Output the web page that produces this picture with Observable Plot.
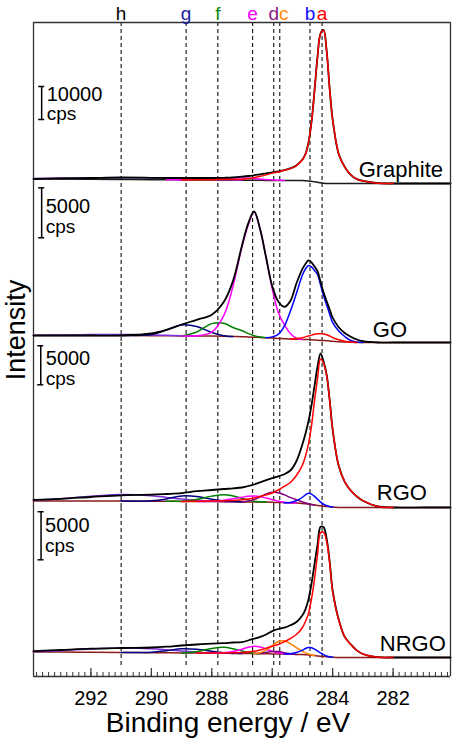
<!DOCTYPE html>
<html>
<head>
<meta charset="utf-8">
<script src="https://cdn.jsdelivr.net/npm/d3@7"></script>
<script src="https://cdn.jsdelivr.net/npm/@observablehq/plot@0.6"></script>
<style>
  body { margin: 0; background: #fff; }
  #chart { position: relative; width: 474px; height: 744px; font-family: "Liberation Sans", Arial, sans-serif; color: #000; }
  #chart svg { display: block; overflow: visible; }
  .ylab { position: absolute; left: 16px; top: 330px; transform: translate(-50%, -50%) rotate(-90deg); font-size: 27px; line-height: 1; white-space: nowrap; }
  .xlab { position: absolute; left: 228px; top: 709px; transform: translateX(-50%); font-size: 28px; line-height: 1; white-space: nowrap; }
</style>
</head>
<body>
<div id="chart">
  <div id="panels"></div>
  <div class="ylab">Intensity</div>
  <div class="xlab">Binding energy / eV</div>
</div>
<script>
// ---------- data (binding energy in eV, intensities in cps) ----------
const energy = [293.9,293,292,291,290,289.5,289,288.5,288,287.6,287.3,287,286.8,286.6,286.4,286.2,286,285.8,285.6,285.4,285.2,285,284.9,284.8,284.7,284.6,284.5,284.4,284.3,284.2,284.1,284,283.8,283.6,283.4,283.2,283,282.5,282,281,280.1];

const peakLetters   = ["h","g","f","e","d","c","b","a"];
const peakPositions = [291.0, 288.85, 287.8, 286.65, 285.95, 285.75, 284.75, 284.35];
const peakColors    = ["#000000","#1c1c9c","#0a8a0a","#ff00ff","#8a1a8a","#ff8c00","#1010ff","#ff0000"];

const panelNames = ["Graphite","GO","RGO","NRGO"];
const scaleBarValues = [10000, 5000, 5000, 5000];
const majorTicks = [282, 284, 286, 288, 290, 292];

// Graphite
const graphiteEnvelope = [1364,1515,1667,1818,1727,1667,1667,1667,1667,1727,1818,2060,2272,2485,2788,3060,3394,3636,4060,4606,5484,7272,8939,12423,18635,28179,38481,45450,46510,40299,28785,19392,8969,5000,2636,1333,788,100,0,0,0];
const graphiteBackground = [1364,1333,1273,1212,1151,1121,1090,1060,1030,1030,1000,1000,970,970,970,939,939,909,909,909,909,879,848,788,667,515,364,212,91,0,0,0,0,0,0,0,0,0,0,0,0];
const graphiteA = [0,0,0,0,0,0,0,50,100,150,200,300,500,800,1200,1700,2200,2600,3100,3600,4500,6300,8000,11550,17900,27600,38050,45150,46350,40250,28750,19370,8950,4990,2630,1330,780,100,0,0,0];
const graphiteE = [0,0,0,0,0,0,50,200,400,550,650,700,650,550,400,250,130,50,0,0,0,0,0,0,0,0,0,0,0,0,0,0,0,0,0,0,0,0,0,0,0];
const graphiteH = [150,300,450,560,520,470,420,300,180,80,30,0,0,0,0,0,0,0,0,0,0,0,0,0,0,0,0,0,0,0,0,0,0,0,0,0,0,0,0,0,0];

// GO
const goEnvelope = [700,700,700,700,900,1270,1800,2270,2780,4070,6140,9700,11860,13100,11320,8450,5640,4100,3570,4160,5900,7360,7850,8220,8020,7590,7130,6070,5010,4150,3310,2480,1520,950,580,300,130,0,0,0,0];
const goBackground = [700,700,700,700,680,670,660,650,640,620,600,580,560,530,500,470,440,410,380,350,330,310,300,290,270,250,230,210,190,170,150,120,80,50,30,10,0,0,0,0,0];
const goA = [0,0,0,0,0,0,0,0,0,0,0,0,0,0,0,0,0,0,0,0,60,170,260,360,470,570,640,670,660,600,500,380,200,80,20,0,0,0,0,0,0];
const goB = [0,0,0,0,0,0,0,0,0,0,0,0,0,0,0,0,120,400,1250,2770,4570,6440,7050,7410,7290,6950,6570,5530,4480,3590,2710,1870,1070,550,170,40,0,0,0,0,0];
const goE = [0,0,0,0,0,0,0,30,400,2100,5000,9020,11120,12520,10800,8000,4960,2620,1400,550,100,0,0,0,0,0,0,0,0,0,0,0,0,0,0,0,0,0,0,0,0];
const goF = [0,0,0,0,0,0,0,400,1250,1300,900,600,350,150,40,0,0,0,0,0,0,0,0,0,0,0,0,0,0,0,0,0,0,0,0,0,0,0,0,0,0];
const goG = [0,0,0,0,120,580,1090,950,360,50,0,0,0,0,0,0,0,0,0,0,0,0,0,0,0,0,0,0,0,0,0,0,0,0,0,0,0,0,0,0,0];
const goH = [30,60,90,100,80,50,20,0,0,0,0,0,0,0,0,0,0,0,0,0,0,0,0,0,0,0,0,0,0,0,0,0,0,0,0,0,0,0,0,0,0];

// RGO
const rgoEnvelope = [986,1114,1344,1562,1638,1728,1843,2086,2240,2368,2445,2560,2752,2944,3226,3494,3750,3994,4262,4736,5923,8102,9446,11033,13069,15565,18048,19712,18688,17024,13824,9984,5338,3290,2176,1408,870,128,0,0,0];
const rgoBackground = [832,832,832,832,806,794,781,768,755,742,730,717,717,704,704,691,666,640,614,589,563,512,474,422,371,320,269,218,166,128,90,51,13,0,0,0,0,0,0,0,0];
const rgoA = [0,0,0,0,0,0,0,30,64,115,166,269,371,512,704,922,1190,1600,2086,2611,3533,4915,6093,7718,10074,13376,16256,18790,18300,16780,13690,9930,5320,3290,2176,1408,870,128,0,0,0];
const rgoB = [0,0,0,0,0,0,0,0,0,0,0,0,0,0,0,0,0,0,0,60,300,800,1150,1400,1350,1100,780,480,250,110,40,0,0,0,0,0,0,0,0,0,0];
const rgoD = [0,0,0,0,0,0,0,0,0,0,0,0,100,300,650,1050,1280,1250,1000,700,420,200,120,60,20,0,0,0,0,0,0,0,0,0,0,0,0,0,0,0,0];
const rgoE = [0,0,0,0,0,0,0,0,50,200,400,600,720,770,700,520,330,170,70,20,0,0,0,0,0,0,0,0,0,0,0,0,0,0,0,0,0,0,0,0,0];
const rgoF = [0,0,0,0,0,0,30,250,700,900,750,450,250,100,30,0,0,0,0,0,0,0,0,0,0,0,0,0,0,0,0,0,0,0,0,0,0,0,0,0,0];
const rgoG = [0,0,0,0,50,300,700,650,300,100,30,0,0,0,0,0,0,0,0,0,0,0,0,0,0,0,0,0,0,0,0,0,0,0,0,0,0,0,0,0,0];
const rgoH = [100,300,600,830,700,500,300,150,60,20,0,0,0,0,0,0,0,0,0,0,0,0,0,0,0,0,0,0,0,0,0,0,0,0,0,0,0,0,0,0,0];

// NRGO
const nrgoEnvelope = [656,780,915,988,1040,1123,1248,1352,1435,1498,1560,1602,1768,1955,2153,2392,2746,2964,3099,3349,3692,4399,5013,6032,7696,9714,11752,13600,13550,12376,9984,6968,3952,2142,1362,738,364,31,0,0,0];
const nrgoBackground = [572,562,541,520,499,489,478,458,447,437,426,416,416,406,395,385,374,364,354,333,322,302,281,260,229,198,166,135,104,73,52,31,0,0,0,0,0,0,0,0,0];
const nrgoA = [0,0,0,0,0,0,0,0,10,30,60,104,156,240,385,593,790,988,1279,1643,2070,2818,3463,4316,5866,7987,10546,12850,12900,11990,9828,6833,3900,2142,1352,728,364,31,0,0,0];
const nrgoB = [0,0,0,0,0,0,0,0,0,0,0,0,0,0,0,0,0,0,0,50,200,470,650,770,780,680,520,340,190,90,30,0,0,0,0,0,0,0,0,0,0];
const nrgoC = [0,0,0,0,0,0,0,0,0,0,0,0,0,0,100,400,850,1300,1380,1100,700,350,200,100,30,0,0,0,0,0,0,0,0,0,0,0,0,0,0,0,0];
const nrgoD = [0,0,0,0,0,0,0,0,0,0,0,0,0,0,50,150,250,250,150,60,0,0,0,0,0,0,0,0,0,0,0,0,0,0,0,0,0,0,0,0,0];
const nrgoE = [0,0,0,0,0,0,0,0,0,50,200,450,650,770,700,500,280,120,40,0,0,0,0,0,0,0,0,0,0,0,0,0,0,0,0,0,0,0,0,0,0];
const nrgoF = [0,0,0,0,0,0,0,150,500,620,480,250,120,40,0,0,0,0,0,0,0,0,0,0,0,0,0,0,0,0,0,0,0,0,0,0,0,0,0,0,0];
const nrgoG = [0,0,0,0,50,220,430,400,200,60,10,0,0,0,0,0,0,0,0,0,0,0,0,0,0,0,0,0,0,0,0,0,0,0,0,0,0,0,0,0,0];
const nrgoH = [50,150,350,470,420,320,200,100,40,10,0,0,0,0,0,0,0,0,0,0,0,0,0,0,0,0,0,0,0,0,0,0,0,0,0,0,0,0,0,0,0];

// ---------- layout / styling ----------
const xDomain = [293.9, 280.1];
const compColor = {a: "#ff0000", b: "#0000ff", c: "#ff8000", d: "#800080", e: "#ff00ff", f: "#008000", g: "#000080", h: "#7b2fd8"};
const fontFamily = "'Liberation Sans', Arial, sans-serif";
const minorTicks = d3.range(1401, 1470).map(k => k / 5);

const panels = [
  {name: panelNames[0], env: graphiteEnvelope, bg: graphiteBackground, bgColor: "#1a1a1a",
   comps: [["h", graphiteH], ["e", graphiteE], ["a", graphiteA]],
   height: 183, marginTop: 22, marginBottom: 0, yDomain: [0, 48783], isTop: true,
   bar: {x: 293.63, y0: 19392, value: scaleBarValues[0], numY: 25149, cpsY: 19200, dx: 5},
   label: {x: 283.14, y: 2121}},
  {name: panelNames[1], env: goEnvelope, bg: goBackground, bgColor: "#8b1c1c",
   comps: [["h", goH], ["g", goG], ["f", goF], ["e", goE], ["b", goB], ["a", goA]],
   height: 159, marginTop: 0, marginBottom: 0, yDomain: [0, 15900],
   bar: {x: 293.63, y0: 10470, value: scaleBarValues[1], numY: 13000, cpsY: 10950, dx: 4},
   label: {x: 282.67, y: 600}},
  {name: panelNames[2], env: rgoEnvelope, bg: rgoBackground, bgColor: "#8b1c1c",
   comps: [["h", rgoH], ["g", rgoG], ["f", rgoF], ["e", rgoE], ["d", rgoD], ["b", rgoB], ["a", rgoA]],
   height: 165, marginTop: 0, marginBottom: 0, yDomain: [0, 21120],
   bar: {x: 293.66, y0: 15706, value: scaleBarValues[2], numY: 18304, cpsY: 15744, dx: 5},
   label: {x: 282.54, y: 986}},
  {name: panelNames[3], env: nrgoEnvelope, bg: nrgoBackground, bgColor: "#8b1c1c",
   comps: [["h", nrgoH], ["g", nrgoG], ["f", nrgoF], ["e", nrgoE], ["d", nrgoD], ["c", nrgoC], ["b", nrgoB], ["a", nrgoA]],
   height: 237, marginTop: 0, marginBottom: 68, yDomain: [-1976, 15600], isBottom: true,
   bar: {x: 293.65, y0: 10161, value: scaleBarValues[3], numY: 13052, cpsY: 10972, dx: 4},
   label: {x: 282.44, y: 728}}
];

function buildPanel(p) {
  const plotH = p.height - p.marginTop - p.marginBottom;
  const marks = [
    Plot.ruleX(peakPositions, {stroke: "#111", strokeWidth: 1.1, strokeDasharray: "4,3", insetBottom: p.isBottom ? 9 : 0}),
    Plot.ruleX(xDomain, {stroke: "#333", strokeWidth: 1.3}),
    Plot.line(energy, {x: d => d, y: p.bg, stroke: p.bgColor, strokeWidth: 1.5, curve: "catmull-rom"})
  ];
  const addComp = ([key, vals]) => {
    const idx = energy.map((_, i) => i).filter(i => vals[i] > 0 || vals[i - 1] > 0 || vals[i + 1] > 0);
    marks.push(Plot.line(idx, {x: i => energy[i], y: i => p.bg[i] + vals[i], stroke: compColor[key], strokeWidth: 1.5, curve: "catmull-rom"}));
  };
  p.comps.filter(c => c[0] !== "a").forEach(addComp);
  marks.push(Plot.line(energy, {x: d => d, y: p.env, stroke: "#000", strokeWidth: 1.8, curve: "catmull-rom"}));
  p.comps.filter(c => c[0] === "a").forEach(addComp);

  // scale bar
  const b = p.bar;
  marks.push(
    Plot.ruleX([b.x], {y1: b.y0, y2: b.y0 + b.value, stroke: "#000", strokeWidth: 1.5}),
    Plot.ruleY([b.y0, b.y0 + b.value], {x1: b.x + 0.1, x2: b.x - 0.1, stroke: "#000", strokeWidth: 1.5}),
    Plot.text([String(b.value)], {x: b.x, y: b.numY, dx: b.dx, textAnchor: "start", lineAnchor: "bottom", fontSize: 20, fill: "#000"}),
    Plot.text(["cps"], {x: b.x, y: b.cpsY, dx: b.dx, textAnchor: "start", lineAnchor: "bottom", fontSize: 19, fill: "#000"}),
    Plot.text([p.name], {x: p.label.x, y: p.label.y, textAnchor: "start", lineAnchor: "bottom", fontSize: 22, fill: "#000"})
  );

  if (p.isTop) {
    marks.push(
      Plot.ruleY([p.yDomain[1]], {stroke: "#333", strokeWidth: 1.3}),
      Plot.text(peakLetters, {x: peakPositions, text: d => d, fill: peakColors, frameAnchor: "top", lineAnchor: "bottom", dy: -2.5, fontSize: 19, filter: d => d !== "c"}),
      Plot.text(peakLetters, {x: peakPositions, text: d => d, fill: peakColors, frameAnchor: "top", lineAnchor: "bottom", dy: -2.5, dx: 4, fontSize: 19, filter: d => d === "c"})
    );
  }
  if (p.isBottom) {
    marks.push(
      Plot.ruleY([p.yDomain[0]], {stroke: "#333", strokeWidth: 1.3}),
      Plot.ruleX(minorTicks, {stroke: "#333", strokeWidth: 1, insetTop: plotH - 4}),
      Plot.ruleX(majorTicks, {stroke: "#333", strokeWidth: 1.2, insetTop: plotH - 8}),
      Plot.axisX(majorTicks, {anchor: "bottom", tickSize: 0, tickPadding: 14, label: null, fontSize: 20})
    );
  }

  return Plot.plot({
    width: 474,
    height: p.height,
    marginLeft: 33,
    marginRight: 24,
    marginTop: p.marginTop,
    marginBottom: p.marginBottom,
    x: p.isBottom ? {domain: xDomain} : {domain: xDomain, axis: null},
    y: {domain: p.yDomain, axis: null},
    color: {type: "identity"},
    style: {background: "none", overflow: "visible", fontFamily, fontSize: "20px", color: "#000"},
    marks
  });
}

const host = document.getElementById("panels");
panels.forEach(p => host.appendChild(buildPanel(p)));
</script>
</body>
</html>
